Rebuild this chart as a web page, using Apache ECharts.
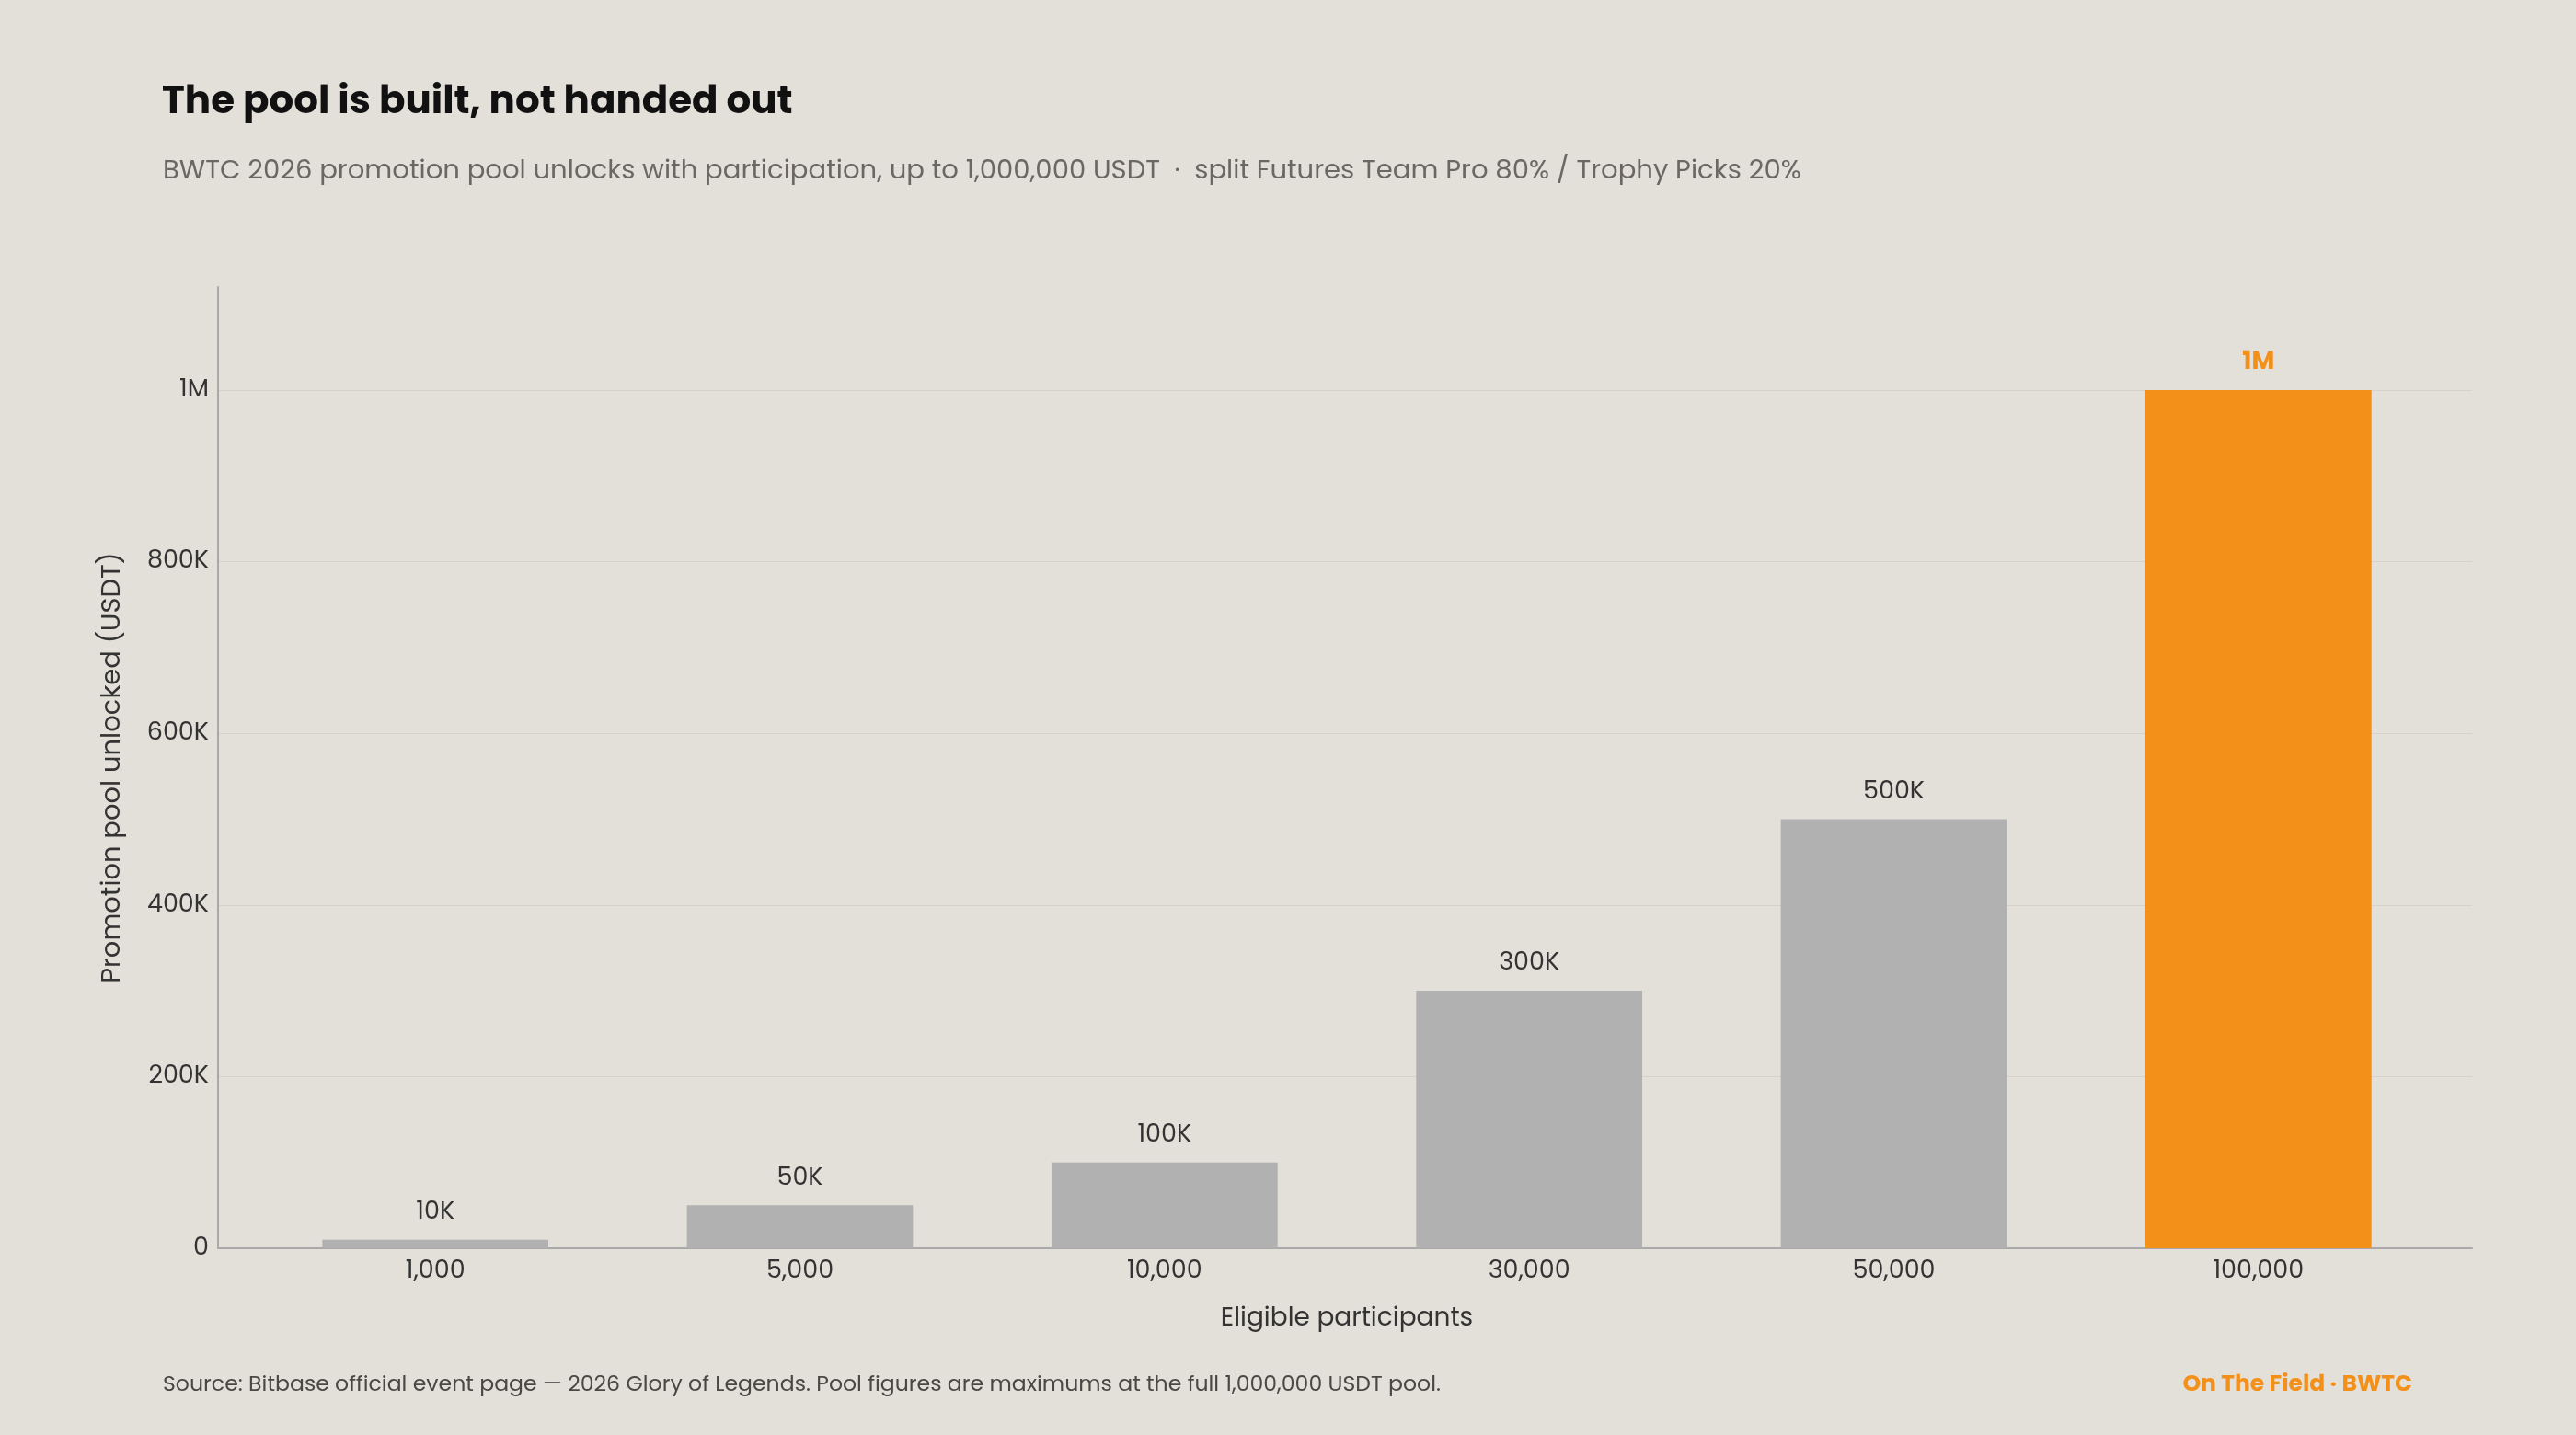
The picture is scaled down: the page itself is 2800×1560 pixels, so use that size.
<!DOCTYPE html>
<html>
<head>
<meta charset="utf-8">
<script src="https://cdn.jsdelivr.net/npm/echarts@6/dist/echarts.min.js"></script>
<style>
  html, body { margin: 0; padding: 0; background: #e3dfd9; }
  #chart { width: 2800px; height: 1560px; }
</style>
</head>
<body>
<div id="chart"></div>
<script>
// participants tiers and pool unlocked at each tier
var participants = ['1,000', '5,000', '10,000', '30,000', '50,000', '100,000'];
var poolValues = [10000, 50000, 100000, 300000, 500000, 1000000];
var poolLabels = ['10K', '50K', '100K', '300K', '500K', '1M'];
var highlightIndex = 5;

var FONT = 'Poppins, Inter, "Noto Sans", sans-serif';
var GRAY = '#b1b1b1';
var ORANGE = '#f39019';
var Y_MAX = 1120000;

function fmtTick (v) {
    if (v === 0) return '0';
    if (v >= 1000000) return (v / 1000000) + 'M';
    return (v / 1000) + 'K';
}

var chart = echarts.init(document.getElementById('chart'));

var barData = [];
for (var i = 0; i < poolValues.length; i++) {
    var hi = i === highlightIndex;
    barData.push({
        value: poolValues[i],
        itemStyle: { color: hi ? ORANGE : GRAY },
        label: {
            formatter: poolLabels[i],
            color: hi ? ORANGE : '#333333',
            fontWeight: hi ? 'bold' : 'normal'
        }
    });
}

var option = {
    backgroundColor: '#e3dfd9',
    animation: false,
    textStyle: { fontFamily: FONT },
    title: [
        {
            text: 'The pool is built, not handed out',
            left: 171,
            top: 86,
            textStyle: { fontFamily: FONT, fontSize: 42, fontWeight: 'bold', color: '#111111' }
        },
        {
            text: 'BWTC 2026 promotion pool unlocks with participation, up to 1,000,000 USDT  \u00b7  split Futures Team Pro 80% / Trophy Picks 20%',
            left: 172,
            top: 167,
            textStyle: { fontFamily: FONT, fontSize: 29.1, fontWeight: 'normal', color: '#6b6762' }
        },
        {
            text: 'Source: Bitbase official event page \u2014 2026 Glory of Legends. Pool figures are maximums at the full 1,000,000 USDT pool.',
            left: 172,
            top: 1489,
            textStyle: { fontFamily: FONT, fontSize: 23.6, fontWeight: 'normal', color: '#4a4744' }
        },
        {
            text: 'On The Field \u00b7 BWTC',
            right: 173,
            top: 1488,
            textStyle: { fontFamily: FONT, fontSize: 25, fontWeight: 'bold', color: ORANGE }
        }
    ],
    grid: [
        // outer frame: axis lines, y ticks, gridlines
        { left: 237, right: 113, top: 312, bottom: 203 },
        // inner band area for the bars (padded inside the frame)
        { left: 275, right: 147, top: 312, bottom: 203 }
    ],
    xAxis: [
        {
            gridIndex: 0,
            type: 'value',
            min: 0,
            max: 1,
            axisLine: { show: true, onZero: false, lineStyle: { color: '#a9a9a9', width: 2 } },
            axisTick: { show: false },
            axisLabel: { show: false },
            splitLine: { show: false }
        },
        {
            gridIndex: 1,
            type: 'category',
            data: participants,
            name: 'Eligible participants',
            nameLocation: 'middle',
            nameGap: 63,
            nameTextStyle: { fontFamily: FONT, fontSize: 28, color: '#333333' },
            axisLine: { show: false },
            axisTick: { show: false },
            axisLabel: { fontSize: 27, color: '#333333', margin: 12 }
        }
    ],
    yAxis: [
        {
            gridIndex: 0,
            type: 'value',
            min: 0,
            max: Y_MAX,
            interval: 200000,
            name: 'Promotion pool unlocked (USDT)',
            nameLocation: 'middle',
            nameGap: 100,
            nameTextStyle: { fontFamily: FONT, fontSize: 29, color: '#333333' },
            axisLine: { show: true, lineStyle: { color: '#a9a9a9', width: 2 } },
            axisTick: { show: false },
            axisLabel: {
                fontSize: 27,
                color: '#333333',
                margin: 10,
                showMaxLabel: false,
                formatter: fmtTick
            },
            splitLine: {
                lineStyle: {
                    color: ['#d6d1cb', '#d6d1cb', '#d6d1cb', '#d6d1cb', '#d6d1cb', '#d6d1cb', 'rgba(0,0,0,0)'],
                    width: 1
                }
            }
        },
        {
            gridIndex: 1,
            type: 'value',
            min: 0,
            max: Y_MAX,
            show: false,
            splitLine: { show: false }
        }
    ],
    series: [
        {
            type: 'bar',
            xAxisIndex: 1,
            yAxisIndex: 1,
            barWidth: '62%',
            data: barData,
            label: {
                show: true,
                position: 'top',
                distance: 16,
                fontFamily: FONT,
                fontSize: 27
            }
        }
    ]
};

chart.setOption(option);
</script>
</body>
</html>
